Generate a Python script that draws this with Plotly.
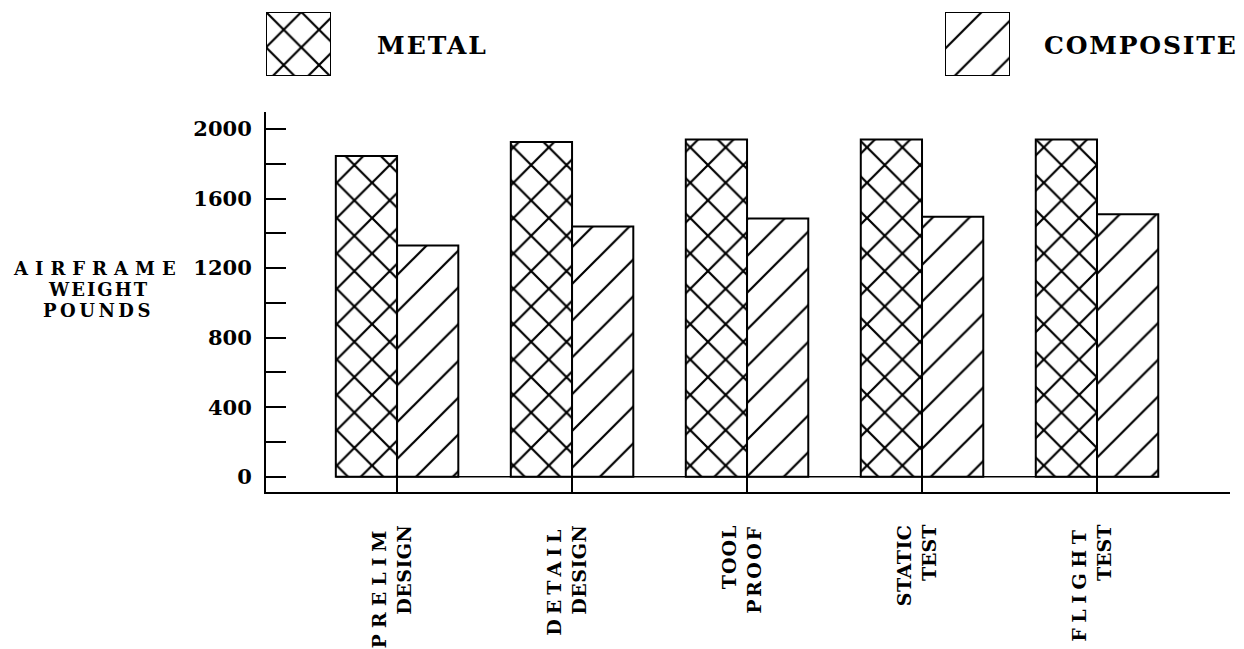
import plotly.graph_objects as go

# ---- data ----
stage_line1 = ["PRELIM", "DETAIL", "TOOL", "STATIC", "FLIGHT"]
stage_line2 = ["DESIGN", "DESIGN", "PROOF", "TEST", "TEST"]
metal = [1845, 1925, 1940, 1940, 1940]
composite = [1330, 1440, 1485, 1495, 1510]
y_title_lines = ["AIRFRAME", "WEIGHT", "POUNDS"]
series_names = ["METAL", "COMPOSITE"]

# ---- styles ----
FONT = "DejaVu Serif"
BARGAP = 0.30
spacing = {"PRELIM": 6, "DETAIL": 5, "TOOL": 1, "PROOF": 2.5, "STATIC": 0.5,
           "TEST": 0, "FLIGHT": 5.5, "DESIGN": 0.5}
title_spacing = {"AIRFRAME": 7, "WEIGHT": 2, "POUNDS": 3.5}
PAT_METAL = dict(shape="x", size=25, solidity=0.17)
PAT_COMP = dict(shape="/", size=26, solidity=0.085)

# page body has an 8px margin: figure is drawn 8px smaller and coordinates
# are expressed in page pixels, then shifted
OFF = 8
PAGE_W, PAGE_H = 1244, 649
W, H = PAGE_W - OFF, PAGE_H - OFF
L, R, T, B = 266 - OFF, 14, 2, H - (492 - OFF)
plot_w = W - L - R
plot_h = H - T - B


def px_to_paper_x(px):
    return (px - OFF - L) / plot_w


def px_to_paper_y(py):
    return (H - B - (py - OFF)) / plot_h


def spaced(word, px):
    return f'<span style="letter-spacing:{px}px">{word}</span>'


x_pos = list(range(len(stage_line1)))
tick_text = [spaced(a, spacing.get(a, 0)) + "<br>" + spaced(b, spacing.get(b, 0))
             for a, b in zip(stage_line1, stage_line2)]


def bar_marker(pat):
    return dict(color="white", line=dict(color="black", width=2),
                pattern=dict(fgcolor="black", bgcolor="white", fillmode="replace",
                             fgopacity=1, **pat))


fig = go.Figure()
fig.add_trace(go.Bar(x=x_pos, y=metal, name=series_names[0], showlegend=False,
                     marker=bar_marker(PAT_METAL)))
fig.add_trace(go.Bar(x=x_pos, y=composite, name=series_names[1], showlegend=False,
                     marker=bar_marker(PAT_COMP)))

# legend swatches drawn as bars on their own small axes
for i, pat in enumerate([PAT_METAL, PAT_COMP]):
    ax = str(i + 2)
    fig.add_trace(go.Bar(x=[0], y=[1], width=[1], xaxis="x" + ax, yaxis="y" + ax,
                         showlegend=False, cliponaxis=False, hoverinfo="skip",
                         marker=bar_marker(pat)))

hidden = dict(visible=False, fixedrange=True)

fig.update_layout(
    width=W, height=H,
    margin=dict(l=L, r=R, t=T, b=B, autoexpand=False),
    paper_bgcolor="white", plot_bgcolor="white",
    barmode="group", bargap=BARGAP, bargroupgap=0,
    font=dict(family=FONT, color="black", size=20, weight=700),
    xaxis=dict(
        range=[-0.749, 4.76], tickmode="array", tickvals=x_pos, ticktext=tick_text,
        tickangle=-90, ticks="inside", ticklen=16, tickwidth=1.5, tickcolor="black",
        showline=True, linecolor="black", linewidth=2, showgrid=False,
        zeroline=False, ticklabelstandoff=23, ticklabelshift=-5, automargin=False,
        tickfont=dict(family=FONT, size=19, color="black", weight=700),
    ),
    yaxis=dict(
        domain=[0, px_to_paper_y(112)], range=[-88, 2098], tickmode="linear",
        tick0=0, dtick=400, ticks="inside", ticklen=20, tickwidth=1.5,
        tickcolor="black", showline=True, linecolor="black", linewidth=2,
        showgrid=False, zeroline=False, ticklabelstandoff=8, automargin=False,
        tickfont=dict(family=FONT, size=21, color="black", weight=700),
        minor=dict(dtick=200, ticks="inside", ticklen=20, tickwidth=1.5,
                   tickcolor="black", showgrid=False),
    ),
    xaxis2=dict(domain=[px_to_paper_x(266), px_to_paper_x(331)],
                range=[-0.5, 0.5], anchor="y2", **hidden),
    yaxis2=dict(domain=[px_to_paper_y(76), px_to_paper_y(12)],
                range=[0, 1], anchor="x2", **hidden),
    xaxis3=dict(domain=[px_to_paper_x(945), px_to_paper_x(1010)],
                range=[-0.5, 0.5], anchor="y3", **hidden),
    yaxis3=dict(domain=[px_to_paper_y(76), px_to_paper_y(12)],
                range=[0, 1], anchor="x3", **hidden),
)

# baseline under the bars at zero
half = (1 - BARGAP) / 2
fig.add_shape(type="line", xref="x", yref="y", x0=x_pos[0] - half,
              x1=x_pos[-1] + half, y0=0, y1=0,
              line=dict(color="black", width=1.5), layer="below")

# legend labels
fig.add_annotation(text=spaced(series_names[0], 2), xref="paper", yref="paper",
                   x=px_to_paper_x(375), y=px_to_paper_y(46), showarrow=False,
                   xanchor="left", yanchor="middle",
                   font=dict(family=FONT, size=25, color="black", weight=700))
fig.add_annotation(text=spaced(series_names[1], 1.8), xref="paper", yref="paper",
                   x=px_to_paper_x(1240), y=px_to_paper_y(46), showarrow=False,
                   xanchor="right", yanchor="middle",
                   font=dict(family=FONT, size=25, color="black", weight=700))

# y-axis title, one annotation per line
for line, ypx in zip(y_title_lines, [268, 289, 310]):
    fig.add_annotation(text=spaced(line, title_spacing[line]), xref="paper",
                       yref="paper", x=px_to_paper_x(98), y=px_to_paper_y(ypx),
                       showarrow=False, xanchor="center", yanchor="middle",
                       font=dict(family=FONT, size=18, color="black", weight=700))

fig.write_html("out.html")
